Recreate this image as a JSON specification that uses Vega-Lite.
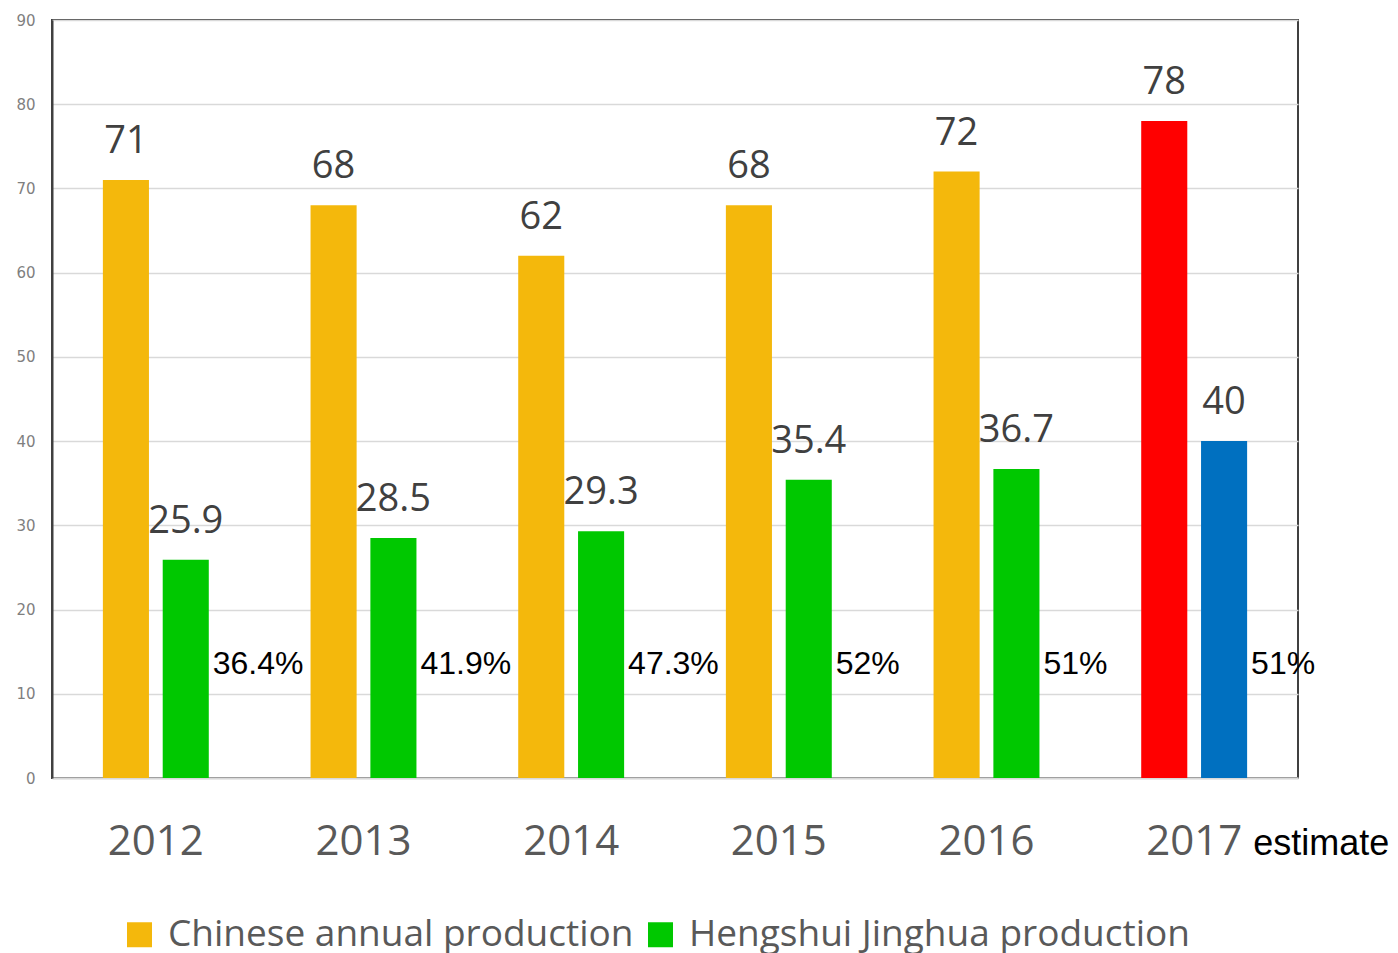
{
  "$schema": "https://vega.github.io/schema/vega-lite/v6.json",
  "width": 1246,
  "height": 758,
  "autosize": {"type": "none"},
  "padding": {"left": 52, "top": 20, "right": 100, "bottom": 175},
  "background": "white",
  "config": {
    "view": {"stroke": "#404040", "strokeWidth": 2},
    "font": "Open Sans"
  },
  "data": {
    "values": [
      {"year": "2012", "series": "A", "value": 71, "cat": "Chinese annual production"},
      {"year": "2012", "series": "B", "value": 25.9, "cat": "Hengshui Jinghua production", "pct": "36.4%"},
      {"year": "2013", "series": "A", "value": 68, "cat": "Chinese annual production"},
      {"year": "2013", "series": "B", "value": 28.5, "cat": "Hengshui Jinghua production", "pct": "41.9%"},
      {"year": "2014", "series": "A", "value": 62, "cat": "Chinese annual production"},
      {"year": "2014", "series": "B", "value": 29.3, "cat": "Hengshui Jinghua production", "pct": "47.3%"},
      {"year": "2015", "series": "A", "value": 68, "cat": "Chinese annual production"},
      {"year": "2015", "series": "B", "value": 35.4, "cat": "Hengshui Jinghua production", "pct": "52%"},
      {"year": "2016", "series": "A", "value": 72, "cat": "Chinese annual production"},
      {"year": "2016", "series": "B", "value": 36.7, "cat": "Hengshui Jinghua production", "pct": "51%"},
      {"year": "2017", "series": "A", "value": 78, "cat": "Chinese annual production (2017 estimate)", "note": "estimate"},
      {"year": "2017", "series": "B", "value": 40, "cat": "Hengshui Jinghua production (2017 estimate)", "pct": "51%"}
    ]
  },
  "encoding": {
    "x": {
      "field": "year", "type": "nominal",
      "scale": {"paddingInner": 0.49, "paddingOuter": 0.245},
      "axis": {
        "title": null, "labelAngle": 0, "ticks": false,
        "domainColor": "#d9d9d9", "domainWidth": 2,
        "labelFont": "Open Sans", "labelFontSize": 42, "labelColor": "#595959",
        "labelPadding": 43
      }
    },
    "y": {
      "field": "value", "type": "quantitative",
      "scale": {"domain": [0, 90], "nice": false},
      "axis": {
        "title": null, "values": [0, 10, 20, 30, 40, 50, 60, 70, 80, 90],
        "ticks": false, "domainColor": "#404040", "domainWidth": 2,
        "gridColor": "#d9d9d9", "gridWidth": 1.5,
        "labelFont": "DejaVu Sans", "labelFontSize": 15, "labelColor": "#7f7f7f",
        "labelPadding": 17
      }
    }
  },
  "layer": [
    {
      "mark": {"type": "bar"},
      "encoding": {
        "xOffset": {"field": "series", "type": "nominal", "scale": {"paddingInner": 0.23, "paddingOuter": 0}},
        "color": {
          "field": "cat", "type": "nominal",
          "scale": {
            "domain": ["Chinese annual production", "Hengshui Jinghua production", "Chinese annual production (2017 estimate)", "Hengshui Jinghua production (2017 estimate)"],
            "range": ["#F4B80C", "#00C800", "#FF0000", "#0070C0"]
          },
          "legend": {
            "values": ["Chinese annual production", "Hengshui Jinghua production"],
            "title": null, "orient": "none", "legendX": 69, "legendY": 896,
            "direction": "horizontal", "symbolType": "square", "symbolSize": 625,
            "symbolStrokeWidth": 0, "symbolOpacity": 1,
            "labelFont": "Open Sans", "labelFontSize": 37, "labelColor": "#595959",
            "labelLimit": 1000, "labelOffset": 10, "columnPadding": 8
          }
        }
      }
    },
    {
      "mark": {"type": "text", "baseline": "alphabetic", "dy": -27, "font": "Open Sans", "fontSize": 38, "color": "#404040"},
      "encoding": {
        "xOffset": {"field": "series", "type": "nominal", "scale": {"paddingInner": 0.23, "paddingOuter": 0}},
        "text": {"field": "value", "type": "quantitative"}
      }
    },
    {
      "transform": [{"filter": "datum.pct != null"}],
      "mark": {"type": "text", "align": "left", "baseline": "alphabetic", "dx": 27, "font": "Liberation Sans", "fontSize": 32, "color": "#000000"},
      "encoding": {
        "xOffset": {"field": "series", "type": "nominal", "scale": {"paddingInner": 0.23, "paddingOuter": 0}},
        "y": {"datum": 12.4},
        "text": {"field": "pct", "type": "nominal"}
      }
    },
    {
      "transform": [{"filter": "datum.note != null"}],
      "mark": {"type": "text", "align": "left", "baseline": "alphabetic", "dx": 59, "font": "Liberation Sans", "fontSize": 36, "color": "#000000"},
      "encoding": {
        "y": {"datum": -9.1},
        "text": {"field": "note", "type": "nominal"}
      }
    }
  ]
}
